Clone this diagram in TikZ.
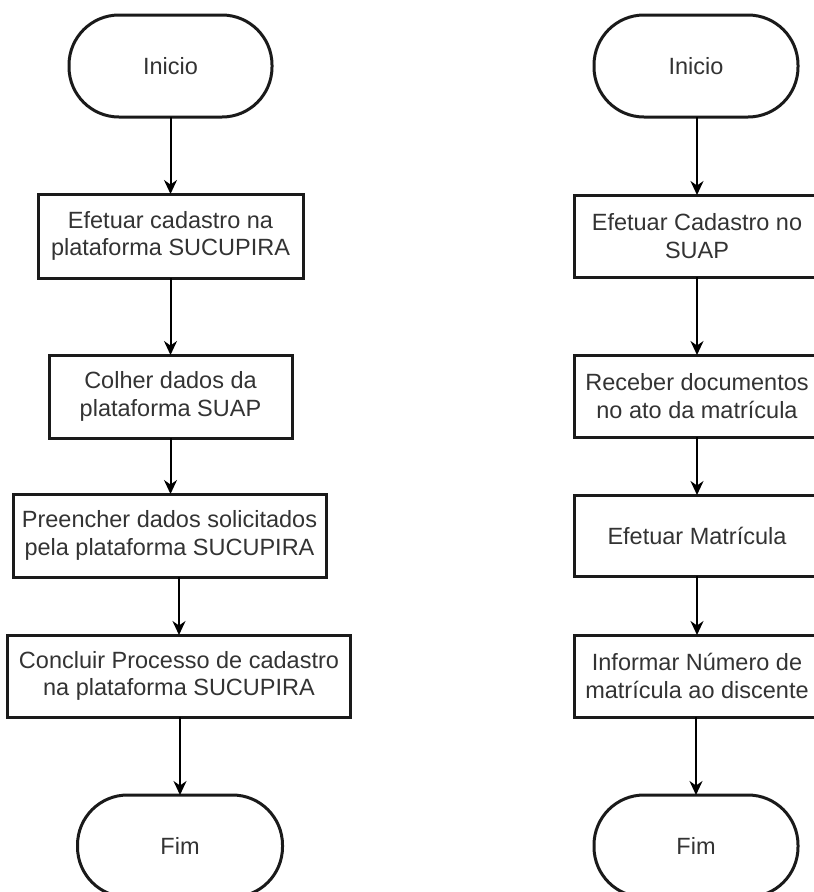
\documentclass[tikz,border=0pt]{standalone}
\usepackage{fontspec}
\setmainfont{Liberation Sans}
\usetikzlibrary{arrows.meta}
\definecolor{txt}{HTML}{333333}
\definecolor{edge}{HTML}{1A1A1A}
\begin{document}
\begin{tikzpicture}[x=1pt,y=-1pt,
  every node/.style={font=\fontsize{23.5}{27.5}\selectfont, text=txt, align=center, inner sep=0pt, outer sep=0pt},
  procbox/.style={draw=edge, line width=3pt, fill=white, minimum height=82pt},
  termin/.style={draw=edge, line width=3pt, fill=white, minimum width=203pt, minimum height=102pt, rounded corners=50pt},
  flow/.style={draw=black, line width=2pt, -{Stealth[length=14pt,width=13pt]}}
]
\path[use as bounding box, fill=white] (0,0) rectangle (814,892);

% Left column
\node[termin] (iniL) at (170.5,66) {Inicio};
\node[procbox, minimum width=265pt, minimum height=84pt] (b1L) at (170.5,236) {Efetuar cadastro na\\plataforma SUCUPIRA};
\node[procbox, minimum width=243pt, minimum height=83pt] (b2L) at (170.5,396.5) {Colher dados da\\plataforma SUAP};
\node[procbox, minimum width=313pt, minimum height=83pt] (b3L) at (169.5,535.5) {Preencher dados solicitados\\pela plataforma SUCUPIRA};
\node[procbox, minimum width=343pt] (b4L) at (179,676) {Concluir Processo de cadastro\\na plataforma SUCUPIRA};
\node[termin, minimum width=205pt] (fimL) at (180,846) {Fim};

\draw[flow] (iniL.south -| b1L.north) -- (b1L.north);
\draw[flow] (b1L.south) -- (b2L.north);
\draw[flow] (b2L.south) -- (b3L.north -| b2L.south);
\draw[flow] (b3L.south -| b4L.north) -- (b4L.north);
\draw[flow] (b4L.south -| fimL.north) -- (fimL.north);

% Right column
\node[termin, minimum width=204pt] (iniR) at (696,66) {Inicio};
\node[procbox, minimum width=246pt] (b1R) at (697,236) {Efetuar Cadastro no\\SUAP};
\node[procbox, minimum width=246pt] (b2R) at (697,396) {Receber documentos\\no ato da matrícula};
\node[procbox, minimum width=246pt, minimum height=81pt] (b3R) at (697,535.5) {Efetuar Matrícula};
\node[procbox, minimum width=246pt] (b4R) at (697,676) {Informar Número de\\matrícula ao discente};
\node[termin, minimum width=204pt] (fimR) at (696,846) {Fim};

\draw[flow] (iniR.south -| b1R.north) -- (b1R.north);
\draw[flow] (b1R.south) -- (b2R.north);
\draw[flow] (b2R.south) -- (b3R.north);
\draw[flow] (b3R.south) -- (b4R.north);
\draw[flow] (b4R.south -| fimR.north) -- (fimR.north);
\end{tikzpicture}
\end{document}
